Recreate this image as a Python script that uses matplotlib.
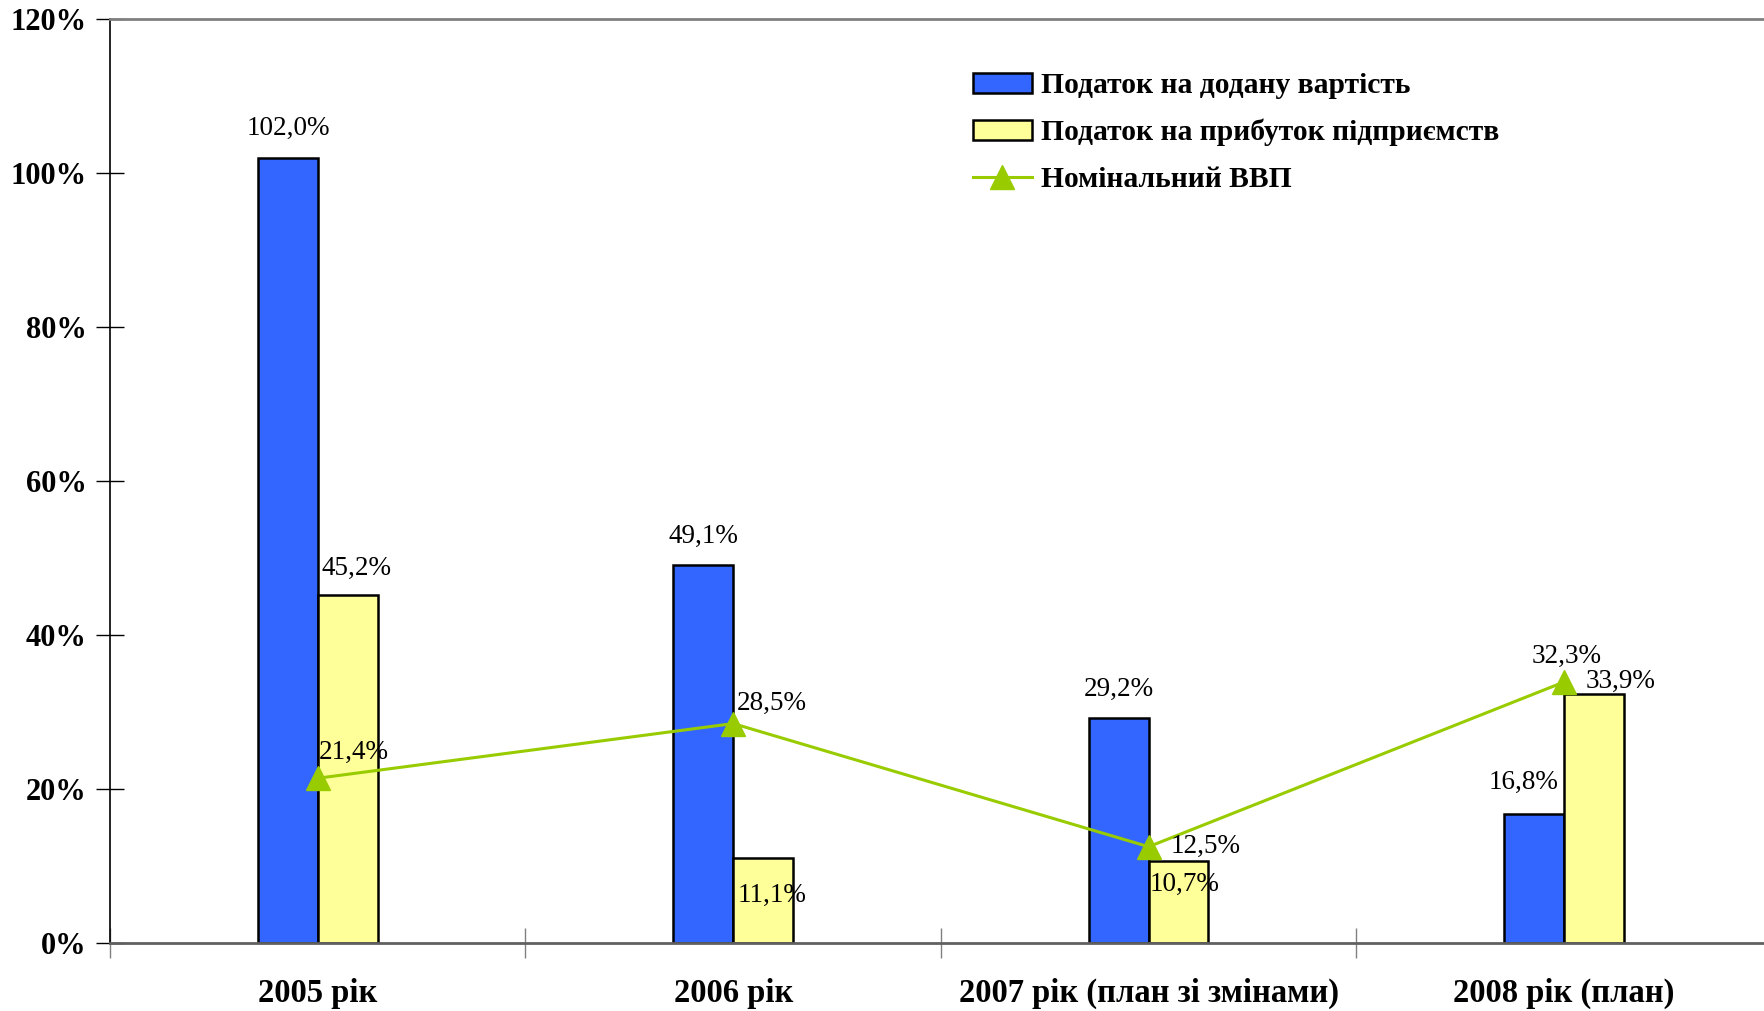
import numpy as np
import matplotlib
matplotlib.use("Agg")
import matplotlib.pyplot as plt
from matplotlib.ticker import FuncFormatter

plt.rcParams['font.family'] = ['Liberation Serif', 'DejaVu Serif']

# data
categories = ['2005 рік', '2006 рік', '2007 рік (план зі змінами)', '2008 рік (план)']
vat = [102.0, 49.1, 29.2, 16.8]
profit_tax = [45.2, 11.1, 10.7, 32.3]
gdp = [21.4, 28.5, 12.5, 33.9]
vat_labels = ['102,0%', '49,1%', '29,2%', '16,8%']
profit_labels = ['45,2%', '11,1%', '10,7%', '33,9%']
gdp_labels = ['21,4%', '28,5%', '12,5%', '32,3%']
series_names = ['Податок на додану вартість', 'Податок на прибуток підприємств', 'Номінальний ВВП']

# label offsets in pixels (dx, dy)
vat_off = [(0, 29), (0, 29), (0, 29), (-11, 31)]
profit_off = [(9, 27), (9, -38), (6, -24), (27, 13)]
gdp_off = [(36, 26), (39, 20), (57, 0), (3, 26)]

blue = '#3366FF'
yellow = '#FFFF99'
green = '#99CC00'

fig = plt.figure(figsize=(17.64, 10.11), dpi=100)
ax = fig.add_axes([0.0624, 0.0673, 0.942, 0.9137])

x = np.arange(len(categories))
w = 0.144
b1 = ax.bar(x - w / 2, vat, w, color=blue, edgecolor='black', linewidth=1.8, zorder=2)
b2 = ax.bar(x + w / 2, profit_tax, w, color=yellow, edgecolor='black', linewidth=1.8, zorder=2)
ln, = ax.plot(x, gdp, color=green, linewidth=2.2, marker='^', markersize=17, zorder=3)

lab_font = dict(fontsize=19.5, ha='center', va='center', textcoords='offset pixels', zorder=4)
for i in range(len(x)):
    ax.annotate(vat_labels[i], (x[i] - w / 2, vat[i]), xytext=vat_off[i], **lab_font)
    ax.annotate(profit_labels[i], (x[i] + w / 2, profit_tax[i]), xytext=profit_off[i], **lab_font)
    ax.annotate(gdp_labels[i], (x[i], gdp[i]), xytext=gdp_off[i], **lab_font)

ax.set_ylim(0, 120)
ax.set_xlim(-0.5, 3.5)
ax.set_yticks(np.arange(0, 121, 20))
ax.yaxis.set_major_formatter(FuncFormatter(lambda v, p: '%d%%' % v))
ax.tick_params(axis='y', direction='inout', length=20, width=1, labelsize=22, pad=7)
for t in ax.get_yticklabels():
    t.set_fontweight('bold')

ax.set_xticks(np.arange(-0.5, 3.6, 1.0))
ax.set_xticklabels([])
ax.set_xticks(x, minor=True)
ax.set_xticklabels(categories, minor=True, fontsize=23.5, fontweight='bold')
ax.tick_params(axis='x', which='major', direction='inout', length=22, width=1, color='#808080')
ax.tick_params(axis='x', which='minor', length=0, pad=25)

ax.spines['right'].set_visible(False)
ax.spines['top'].set_color('#808080')
ax.spines['top'].set_linewidth(2)
ax.spines['bottom'].set_color('#606060')
ax.spines['bottom'].set_linewidth(2)
ax.spines['left'].set_linewidth(1.2)
ax.set_axisbelow(True)

leg = ax.legend([b1, b2, ln], series_names, loc='upper left', bbox_to_anchor=(0.543, 0.943),
                bbox_transform=fig.transFigure, frameon=False, borderpad=0, handlelength=2.0,
                handleheight=0.65, handletextpad=0.3, labelspacing=0.66,
                prop={'size': 21.3, 'weight': 'bold'})

fig.savefig('out.png', dpi=100)
